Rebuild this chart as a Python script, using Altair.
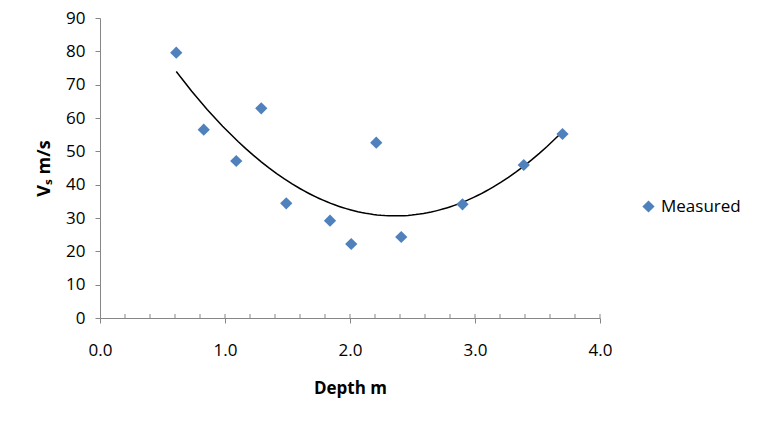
import altair as alt
import pandas as pd

depth = [0.61, 0.83, 1.09, 1.29, 1.49, 1.84, 2.01, 2.21, 2.41, 2.90, 3.39, 3.70]
vs = [79.6, 56.5, 47.1, 62.9, 34.4, 29.2, 22.2, 52.6, 24.3, 34.1, 45.9, 55.2]
series = ["Measured"] * len(depth)
minor_ticks = [0.2, 0.4, 0.6, 0.8, 1.0, 1.2, 1.4, 1.6, 1.8, 2.0, 2.2, 2.4, 2.6, 2.8,
               3.0, 3.2, 3.4, 3.6, 3.8, 4.0]

df = pd.DataFrame({"depth": depth, "vs": vs, "series": series})
ticks_df = pd.DataFrame({"t": minor_ticks})

FONT = "Open Sans"
W, H = 500, 300

xscale = alt.Scale(domain=[0, 4], nice=False, zero=False)
yscale = alt.Scale(domain=[0, 90], nice=False)

common = dict(grid=False, domainColor="#868686", tickColor="#868686", labelFontSize=17,
              labelFont=FONT, labelColor="black", labelOverlap=False, labelFlush=False,
              titleFont=FONT, titleFontWeight="bold", titleColor="black")

xaxis = alt.Axis(values=[0, 1, 2, 3, 4], format=".1f", labelPadding=19, title="Depth m",
                 titlePadding=22, tickSize=5, titleFontSize=17, **common)
yaxis = alt.Axis(values=list(range(0, 91, 10)), labelPadding=10, title="Vₛ m/s",
                 titlePadding=12, tickSize=5, titleFontSize=18, **common)

minor = alt.Chart(ticks_df).mark_rule(color="#868686", strokeWidth=1).encode(
    x=alt.X("t:Q", scale=xscale, axis=xaxis),
    y=alt.value(H),
    y2=alt.value(H - 4),
)

trend = alt.Chart(df).transform_regression("depth", "vs", method="poly", order=2).mark_line(
    color="black", strokeWidth=1.5).encode(
    x=alt.X("depth:Q", scale=xscale, axis=xaxis),
    y=alt.Y("vs:Q", scale=yscale, axis=yaxis),
)

points = alt.Chart(df).mark_point(shape="diamond", filled=True, opacity=1, size=150).encode(
    x=alt.X("depth:Q", scale=xscale, axis=xaxis),
    y=alt.Y("vs:Q", scale=yscale, axis=yaxis),
    color=alt.Color("series:N", scale=alt.Scale(range=["#4F81BD"]),
                    legend=alt.Legend(title=None, orient="none", legendX=540, legendY=180,
                                      symbolType="diamond", symbolSize=150, labelFont=FONT,
                                      labelFontSize=17, labelColor="black", symbolOpacity=1,
                                      symbolStrokeWidth=0, labelOffset=4)),
)

chart = alt.layer(minor, trend, points).properties(
    width=W, height=H,
    background="white",
    autosize=alt.AutoSizeParams(type="none"),
    padding={"left": 92, "top": 10, "right": 155, "bottom": 102},
).configure_view(stroke=None).configure_axis(**common)

chart.save("out.html", embed_options={"renderer": "svg", "actions": False})
